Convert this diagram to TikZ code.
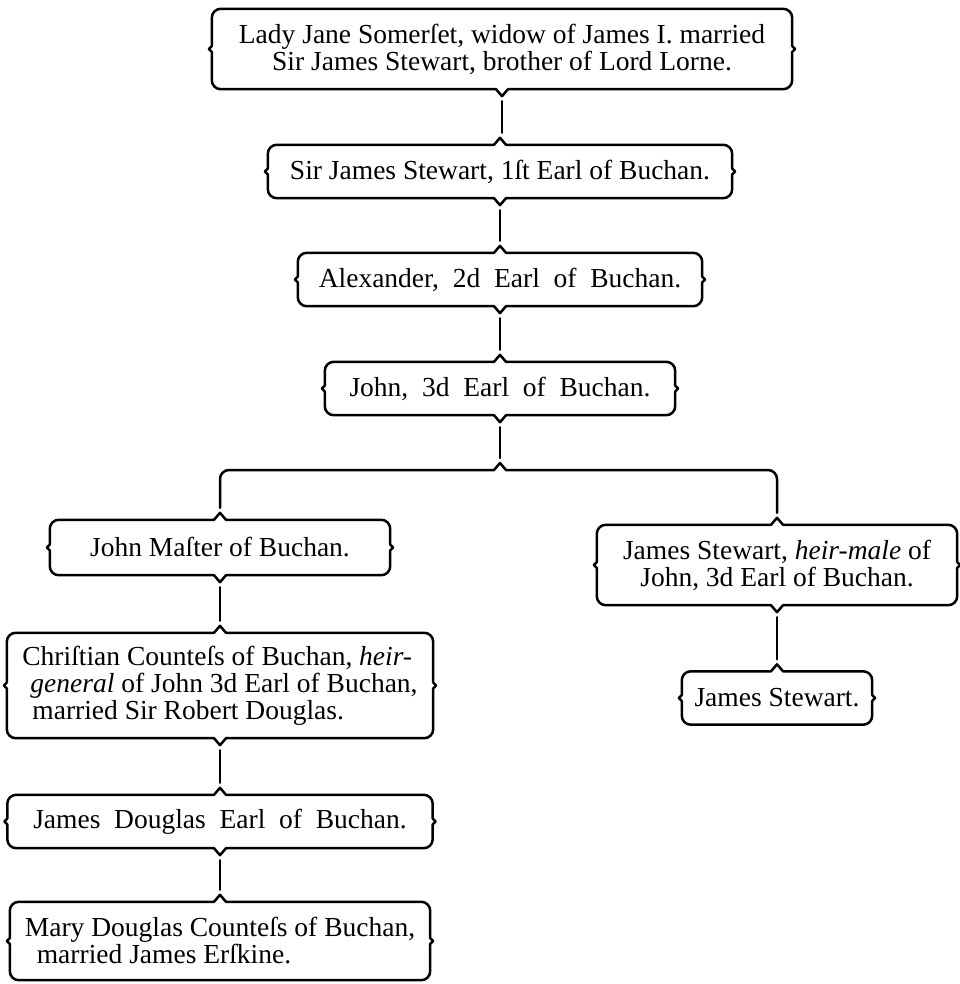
\documentclass[tikz,border=0pt]{standalone}
\usepackage{fontspec}
\setmainfont{Liberation Serif}
\tikzset{
  brk/.style={line width=2.5pt, line cap=round, line join=round},
  entry/.style={inner sep=0pt, font=\fontsize{27.5}{27}\selectfont, align=center},
}
\newcommand\brkbox[3]{%
  \draw[brk] ([xshift=-6pt]#1.north) -- ++(6pt,#2) -- ++(6pt,-#2)
    -- ([xshift=-9pt]#1.north east) arc[start angle=90,end angle=0,radius=9pt]
    -- ([yshift=3pt]#1.east) -- ++(3pt,-3pt) -- ++(-3pt,-3pt)
    -- ([yshift=9pt]#1.south east) arc[start angle=0,end angle=-90,radius=9pt]
    -- ([xshift=6pt]#1.south) -- ++(-6pt,-#3) -- ++(-6pt,#3)
    -- ([xshift=9pt]#1.south west) arc[start angle=270,end angle=180,radius=9pt]
    -- ([yshift=-3pt]#1.west) -- ++(-3pt,3pt) -- ++(3pt,3pt)
    -- ([yshift=-9pt]#1.north west) arc[start angle=180,end angle=90,radius=9pt]
    -- cycle;
}
\begin{document}
\begin{tikzpicture}[x=1pt,y=-1pt]
\useasboundingbox (0,0) rectangle (959,984);
\node[entry, minimum width=580pt, minimum height=80pt] (b1) at (502,49)
  {Lady Jane Somerſet, widow of James I. married\\Sir James Stewart, brother of Lord Lorne.};
\node[entry, minimum width=464pt, minimum height=53pt] (b2) at (500,171.5)
  {Sir James Stewart, 1ſt Earl of Buchan.};
\node[entry, minimum width=404pt, minimum height=53pt] (b3) at (500,279.5)
  {Alexander,\ \ 2d\ \ Earl\ \ of\ \ Buchan.};
\node[entry, minimum width=350pt, minimum height=53pt] (b4) at (500,388.5)
  {John,\ \ 3d\ \ Earl\ \ of\ \ Buchan.};
\node[entry, minimum width=340pt, minimum height=55pt] (b5) at (220,547.5)
  {John Maſter of Buchan.};
\node[entry, align=left, minimum width=426pt, minimum height=105pt] (b6) at (220,685.5)
  {Chriſtian Counteſs of Buchan, \textit{heir-}\\\hspace*{8pt}\textit{general} of John 3d Earl of Buchan,\\\hspace*{10pt}married Sir Robert Douglas.};
\node[entry, minimum width=425pt, minimum height=53pt] (b7) at (220,821.5)
  {James\ \ Douglas\ \ Earl\ \ of\ \ Buchan.};
\node[entry, align=left, minimum width=420pt, minimum height=78pt] (b8) at (220,941)
  {Mary Douglas Counteſs of Buchan,\\\hspace*{12pt}married James Erſkine.};
\node[entry, minimum width=360pt, minimum height=80pt] (b9) at (777,565)
  {James Stewart, \textit{heir-male} of\\John, 3d Earl of Buchan.};
\node[entry, minimum width=190pt, minimum height=53pt] (b10) at (777,698)
  {James Stewart.};
\brkbox{b1}{0pt}{7pt}
\brkbox{b2}{7pt}{7pt}
\brkbox{b3}{7pt}{7pt}
\brkbox{b4}{7pt}{7pt}
\brkbox{b5}{7pt}{7pt}
\brkbox{b6}{7pt}{7pt}
\brkbox{b7}{7pt}{7pt}
\brkbox{b8}{7pt}{0pt}
\brkbox{b9}{7pt}{7pt}
\brkbox{b10}{7pt}{0pt}
\draw[brk] ([yshift=-12pt]b1.south) -- ([yshift=12pt]b1.south |- b2.north);
\draw[brk] ([yshift=-12pt]b2.south) -- ([yshift=12pt]b3.north);
\draw[brk] ([yshift=-12pt]b3.south) -- ([yshift=12pt]b4.north);
\coordinate (br) at (500,470);
\coordinate (bl) at (b5.north |- br);
\coordinate (brr) at (b9.north |- br);
\draw[brk] ([yshift=-12pt]b4.south) -- ([yshift=12pt]br);
\draw[brk] ([yshift=12pt]b5.north) -- ([yshift=-9pt]bl) arc[start angle=180,end angle=90,radius=9pt]
  -- ([xshift=-6pt]br) -- ++(6pt,7pt) -- ++(6pt,-7pt)
  -- ([xshift=-9pt]brr) arc[start angle=90,end angle=0,radius=9pt] -- ([yshift=12pt]b9.north);
\draw[brk] ([yshift=-12pt]b5.south) -- ([yshift=12pt]b6.north);
\draw[brk] ([yshift=-12pt]b6.south) -- ([yshift=12pt]b7.north);
\draw[brk] ([yshift=-12pt]b7.south) -- ([yshift=12pt]b8.north);
\draw[brk] ([yshift=-12pt]b9.south) -- ([yshift=12pt]b10.north);
\end{tikzpicture}
\end{document}
